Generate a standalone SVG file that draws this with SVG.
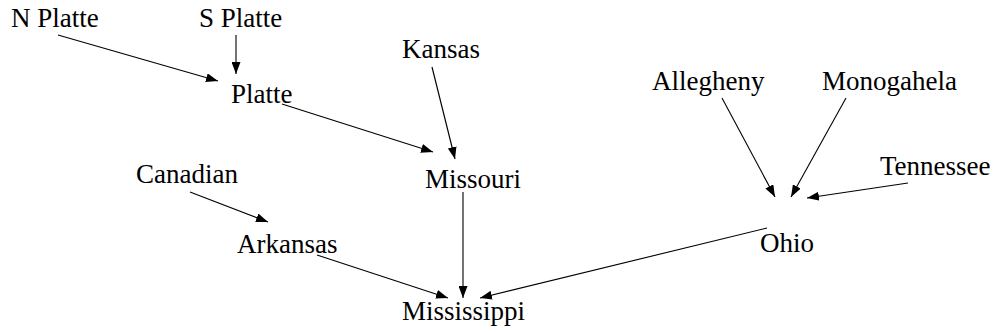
<svg xmlns="http://www.w3.org/2000/svg" width="996" height="332" viewBox="0 0 996 332">
<style>
text{font-family:"Liberation Serif","Times New Roman",serif;font-size:27px;fill:#000}
.e line{stroke:#000;stroke-width:1.1;fill:none;marker-end:url(#ah)}
</style>
<defs>
<marker id="ah" markerUnits="userSpaceOnUse" markerWidth="13" markerHeight="9" refX="12" refY="4.5" orient="auto">
<path d="M0,0 L12,4.5 L0,9 z" fill="#000"/>
</marker>
</defs>
<rect width="996" height="332" fill="#fff"/>
<g id="n-nplatte"><text x="11" y="27">N Platte</text></g>
<g id="n-splatte"><text x="199" y="27">S Platte</text></g>
<g id="n-platte"><text x="231" y="103">Platte</text></g>
<g id="n-kansas"><text x="402" y="58">Kansas</text></g>
<g id="n-missouri"><text x="425" y="188">Missouri</text></g>
<g id="n-canadian"><text x="136" y="183">Canadian</text></g>
<g id="n-arkansas"><text x="237" y="253">Arkansas</text></g>
<g id="n-mississippi"><text x="402" y="320">Mississippi</text></g>
<g id="n-allegheny"><text x="652" y="90">Allegheny</text></g>
<g id="n-monogahela"><text x="822" y="90">Monogahela</text></g>
<g id="n-tennessee"><text x="880" y="175">Tennessee</text></g>
<g id="n-ohio"><text x="760" y="252">Ohio</text></g>
<g id="edges" class="e">
<line x1="58" y1="35" x2="218" y2="81"/>
<line x1="236" y1="35" x2="236" y2="74"/>
<line x1="282" y1="104" x2="433" y2="152"/>
<line x1="432" y1="67" x2="455" y2="159"/>
<line x1="463" y1="192" x2="463" y2="298"/>
<line x1="190" y1="192" x2="268" y2="222"/>
<line x1="317" y1="255" x2="448" y2="298"/>
<line x1="767" y1="228" x2="480" y2="298"/>
<line x1="722" y1="98" x2="775" y2="197"/>
<line x1="846" y1="98" x2="791" y2="197"/>
<line x1="908" y1="183" x2="807" y2="198"/>
</g>
</svg>
